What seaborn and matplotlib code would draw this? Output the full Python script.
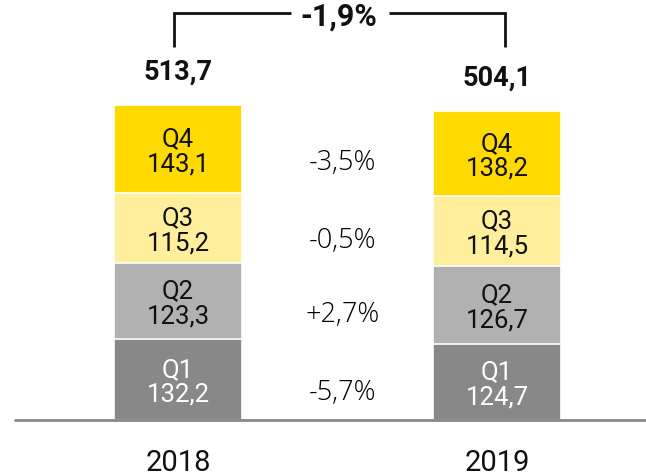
import numpy as np
import pandas as pd
import matplotlib
matplotlib.use("Agg")
import matplotlib.pyplot as plt
import seaborn as sns

# Quarterly values per year
years = ["2018", "2019"]
quarters = ["Q1", "Q2", "Q3", "Q4"]
values_2018 = [132.2, 123.3, 115.2, 143.1]
values_2019 = [124.7, 126.7, 114.5, 138.2]
totals = [513.7, 504.1]
quarter_changes = ["-5,7%", "+2,7%", "-0,5%", "-3,5%"]
total_change = "-1,9%"

colors = ["#888888", "#b1b1b1", "#ffee9b", "#ffda00"]
text_colors = ["white", "#111111", "#111111", "#111111"]

sns.set_theme(style="white")
plt.rcParams["font.family"] = ["Roboto", "DejaVu Sans"]


def fmt(v):
    return f"{v:.1f}".replace(".", ",")


vals = np.array([values_2018, values_2019])  # shape (year, quarter)
cum = np.cumsum(vals, axis=1)

fig = plt.figure(figsize=(6.46, 4.77), dpi=100)
ax = fig.add_axes([0, 0, 1, 1])

# Stacked bars: draw cumulative heights from the top quarter down
for qi in range(3, -1, -1):
    df = pd.DataFrame({"year": years, "value": cum[:, qi]})
    sns.barplot(data=df, x="year", y="value", color=colors[qi],
                width=0.401, edgecolor="white", linewidth=1.2,
                saturation=1, ax=ax, zorder=2)

# Segment labels
for yi in range(2):
    bottoms = np.concatenate([[0], cum[yi, :-1]])
    for qi in range(4):
        mid = bottoms[qi] + vals[yi, qi] / 2
        ax.text(yi, mid - 3, f"{quarters[qi]}\n{fmt(vals[yi, qi])}",
                ha="center", va="center", fontsize=18.5,
                color=text_colors[qi], linespacing=1.05, zorder=3)

# Quarter-over-quarter change labels between the bars
bottoms_all = np.hstack([np.zeros((2, 1)), cum[:, :-1]])
mids = (bottoms_all + vals / 2).mean(axis=0)
for qi in range(4):
    ax.text(0.515, mids[qi] - 18, quarter_changes[qi], ha="center",
            va="center", fontsize=19.5, fontweight="light", color="#000000",
            family=["Open Sans", "Roboto", "DejaVu Sans"])

# Totals above bars
for yi in range(2):
    ax.text(yi, totals[yi] + 55, fmt(totals[yi]), ha="center", va="center",
            fontsize=19.5, fontweight="bold", color="#111111")

# Bracket with total change
y_low, y_top = 608, 664
xl, xr = -0.013, 1.025
ax.plot([xl, xl, 0.355], [y_low, y_top, y_top], color="#111111", lw=2,
        solid_capstyle="butt", solid_joinstyle="miter")
ax.plot([0.66, xr, xr], [y_top, y_top, y_low], color="#111111", lw=2,
        solid_capstyle="butt", solid_joinstyle="miter")
ax.text(0.505, y_top - 4, total_change, ha="center", va="center",
        fontsize=22, fontweight="bold", color="#111111")

# Baseline and year labels
ax.axhline(0, xmin=15 / 646, xmax=1, color="#888888", lw=2, zorder=4)
for yi in range(2):
    ax.text(yi, -69, years[yi], ha="center", va="center", fontsize=21,
            color="#111111")

ax.set_xlim(-178 / 319, (646 - 178) / 319)
ax.set_ylim(-56 / 0.613, 421 / 0.613)
ax.axis("off")

fig.savefig("out.png", dpi=100)
